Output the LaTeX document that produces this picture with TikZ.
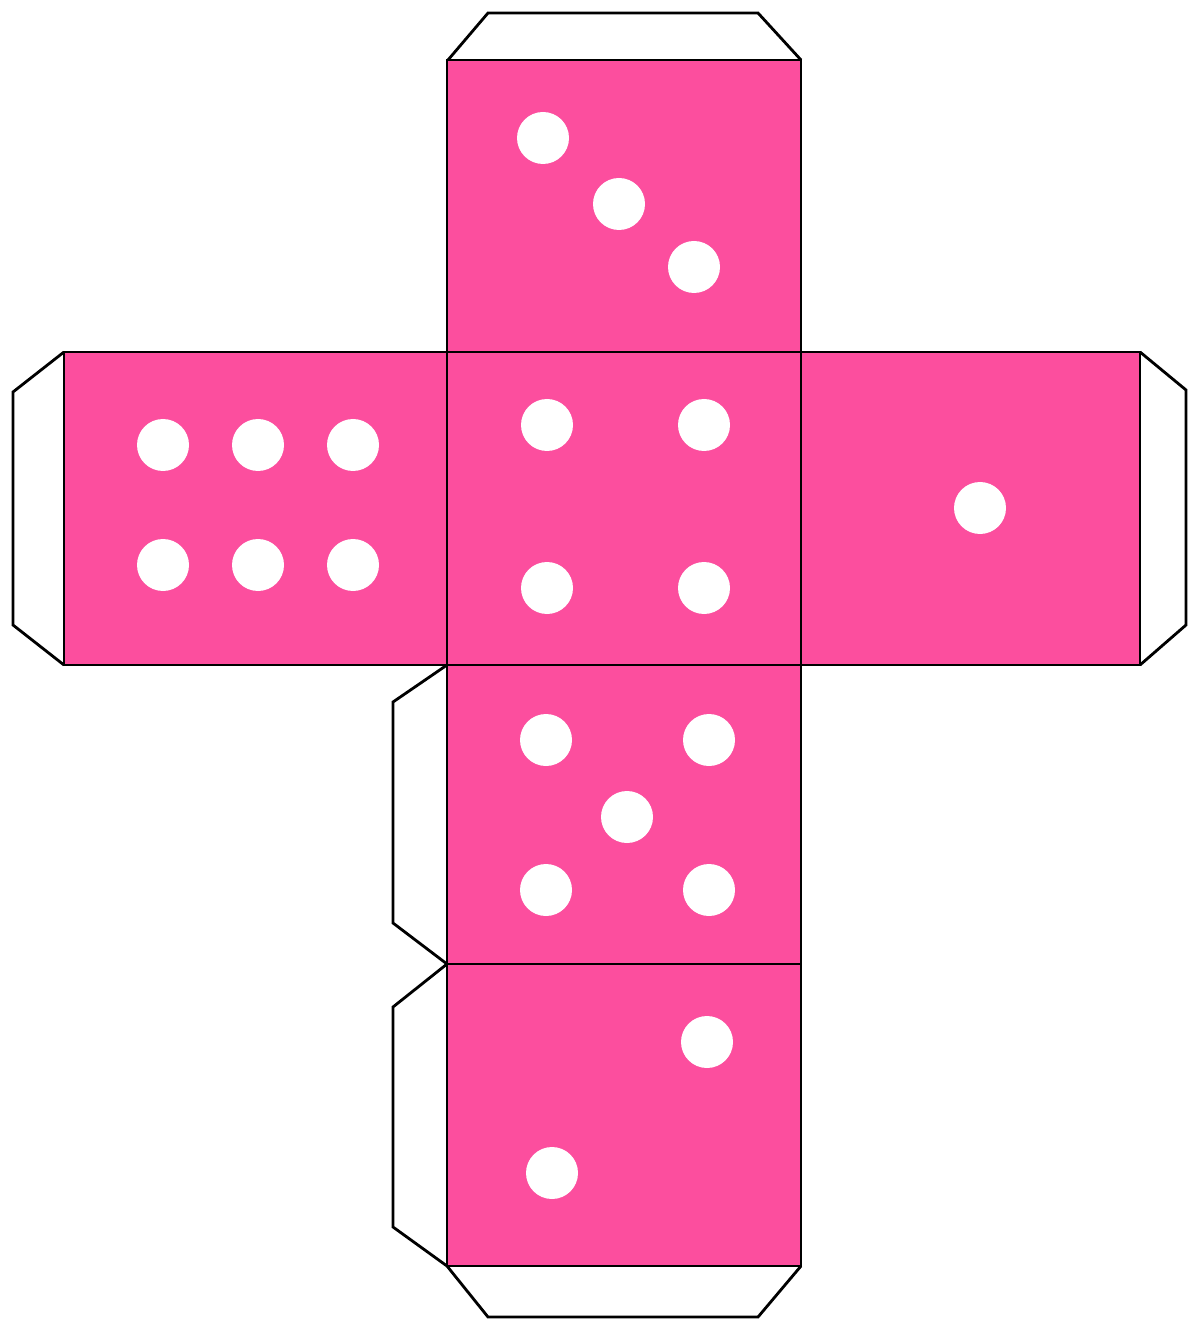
\documentclass[tikz,border=0pt]{standalone}
\usepackage{xcolor}
\definecolor{dicepink}{RGB}{252,78,158}

\begin{document}
\begin{tikzpicture}[x=0.01cm, y=-0.01cm,
        face/.style={draw=black, fill=dicepink, line width=0.8pt},
        tab/.style={draw=black, fill=white, line width=0.8pt, line join=miter},
        pip/.style={fill=white}
      ]
        \useasboundingbox (0,0) rectangle (1193,1319);
        % glue tabs
        \draw[tab] (448,60) -- (488,13) -- (758,13) -- (801,60);
        \draw[tab] (64,352) -- (13,392) -- (13,625) -- (64,665);
        \draw[tab] (1140,352) -- (1186,390) -- (1186,625) -- (1140,665);
        \draw[tab] (447,665) -- (393,702) -- (393,923) -- (447,964);
        \draw[tab] (447,964) -- (393,1007) -- (393,1227) -- (447,1266);
        \draw[tab] (447,1266) -- (488,1317) -- (758,1317) -- (801,1266);
        % faces
        \draw[face] (447,60) rectangle (801,352);
        \draw[face] (64,352) rectangle (447,665);
        \draw[face] (447,352) rectangle (801,665);
        \draw[face] (801,352) rectangle (1140,665);
        \draw[face] (447,665) rectangle (801,964);
        \draw[face] (447,964) rectangle (801,1266);
        % pips
        \foreach \x/\y in {543/138, 619/204, 694/267,
                           547/425, 704/425, 547/588, 704/588,
                           163/445, 258/445, 353/445, 163/565, 258/565, 353/565,
                           980/508,
                           546/740, 709/740, 627/817, 546/890, 709/890,
                           707/1042, 552/1173}
          \fill[pip] (\x,\y) circle (26);
      \end{tikzpicture}
\end{document}
